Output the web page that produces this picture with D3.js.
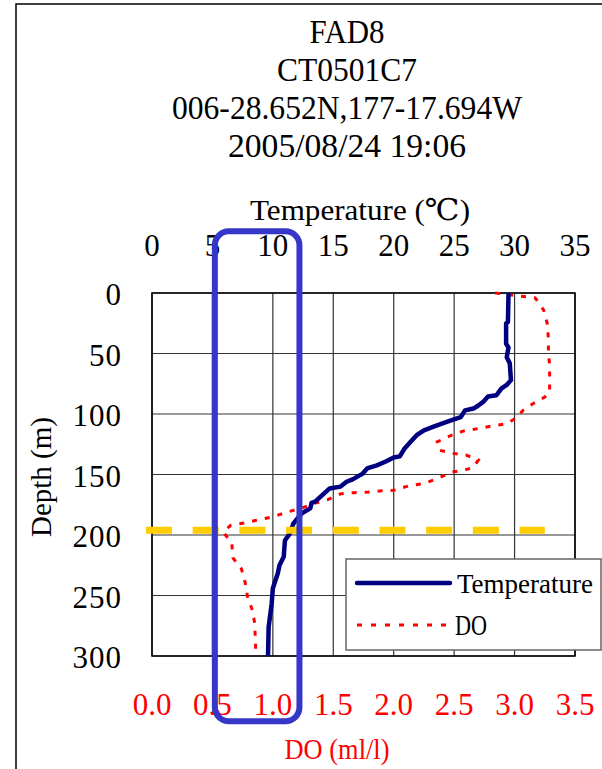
<!DOCTYPE html>
<html>
<head>
<meta charset="utf-8">
<script src="https://cdn.jsdelivr.net/npm/d3@7"></script>
<style>
  body { margin: 0; background: #fff; }
  text { font-family: "Liberation Serif", "DejaVu Serif", serif; }
</style>
</head>
<body>
<div id="chart"></div>
<script>
// title lines
const titleLines = ["FAD8", "CT0501C7", "006-28.652N,177-17.694W", "2005/08/24 19:06"];

// tick labels
const tempTicks = [0, 5, 10, 15, 20, 25, 30, 35];
const doTicks = [0, 0.5, 1.0, 1.5, 2.0, 2.5, 3.0, 3.5];
const depthTicks = [0, 50, 100, 150, 200, 250, 300];

// temperature profile (depth m, deg C)
const tempDepth = [0, 24, 25, 42, 45, 53, 58, 72, 76, 79, 84.5, 85.5, 90, 93, 95.5, 97, 102.5, 105, 107.5, 110.5,
  113.5, 117.5, 123, 128.5, 135, 136, 139.5, 142.5, 145, 149.5, 154, 156, 160, 161.5, 166, 172.5, 173.5, 178, 182,
  190.5, 199, 204.5, 218, 225, 232, 244, 257, 276, 300];
const tempValue = [29.5, 29.45, 29.3, 29.3, 29.5, 29.35, 29.6, 29.7, 29.35, 28.9, 28.5, 27.8, 27.4, 27.0, 26.6, 25.9,
  25.55, 24.8, 24.1, 23.3, 22.5, 21.9, 21.4, 20.9, 20.5, 20.0, 19.3, 18.6, 17.8, 17.4, 16.6, 16.1, 15.6, 14.7, 14.2,
  13.5, 13.2, 13.1, 12.4, 11.7, 11.4, 11.0, 10.9, 10.55, 10.4, 10.0, 9.9, 9.65, 9.6];

// dissolved oxygen profile (depth m, ml/l)
const doDepth = [0, 2, 4, 14, 25, 38, 49, 60, 72, 82, 86, 91, 97, 102.5, 108, 110, 112, 114, 117.5, 123, 130, 132.5,
  134, 138, 144, 146.5, 148, 153.5, 157.5, 159, 163, 163.5, 164.5, 165, 166, 171, 174, 178, 181, 185, 187, 190, 192,
  197.5, 207, 219, 228, 239, 251, 262, 273, 300];
const doValue = [2.84, 3.0, 3.17, 3.24, 3.27, 3.28, 3.28, 3.29, 3.29, 3.29, 3.25, 3.16, 3.07, 3.02, 2.94, 2.81, 2.70,
  2.58, 2.48, 2.36, 2.38, 2.49, 2.60, 2.70, 2.66, 2.58, 2.48, 2.36, 2.25, 2.14, 2.0, 1.90, 1.79, 1.67, 1.56, 1.45,
  1.34, 1.23, 1.12, 1.0, 0.90, 0.77, 0.65, 0.59, 0.66, 0.67, 0.74, 0.77, 0.79, 0.83, 0.85, 0.86];

// annotations
const markerDepth = 196;
const markerTemp = [-0.5, 32.5];
const highlightDO = [0.52, 1.22];
const highlightDepth = [-51, 354];

const W = 602, H = 769;
const plot = {left: 152, right: 575, top: 293, bottom: 656};

const svg = d3.select("#chart").append("svg")
  .attr("width", W).attr("height", H);

// figure frame
svg.append("rect")
  .attr("x", 16).attr("y", 4).attr("width", 700).attr("height", 800)
  .attr("fill", "none").attr("stroke", "#000").attr("stroke-width", 1.5);

const xT = d3.scaleLinear().domain([0, 35]).range([plot.left, plot.right]);
const xDO = d3.scaleLinear().domain([0, 3.5]).range([plot.left, plot.right]);
const y = d3.scaleLinear().domain([0, 300]).range([plot.top, plot.bottom]);

// title
const titleY = [43, 81, 119, 157];
const titleW = [75, 140, 350, 238];
svg.selectAll(".title").data(titleLines).enter().append("text")
  .attr("x", 347).attr("y", (d, i) => titleY[i])
  .attr("text-anchor", "middle")
  .attr("font-size", 33)
  .attr("textLength", (d, i) => titleW[i])
  .attr("lengthAdjust", "spacingAndGlyphs")
  .text(d => d);

// grid
const g = svg.append("g");
g.selectAll(".vg").data(tempTicks).enter().append("line")
  .attr("x1", d => xT(d)).attr("x2", d => xT(d))
  .attr("y1", plot.top).attr("y2", plot.bottom)
  .attr("stroke", "#333").attr("stroke-width", 1.2);
g.selectAll(".hg").data(depthTicks).enter().append("line")
  .attr("x1", plot.left).attr("x2", plot.right)
  .attr("y1", d => y(d)).attr("y2", d => y(d))
  .attr("stroke", "#333").attr("stroke-width", 1.2);
g.append("rect")
  .attr("x", plot.left).attr("y", plot.top)
  .attr("width", plot.right - plot.left).attr("height", plot.bottom - plot.top)
  .attr("fill", "none").attr("stroke", "#000").attr("stroke-width", 1.5);

// top axis labels (temperature)
svg.selectAll(".tt").data(tempTicks).enter().append("text")
  .attr("x", d => xT(d)).attr("y", 256)
  .attr("text-anchor", "middle").attr("font-size", 31)
  .text(d => d);
svg.append("text")
  .attr("x", 360).attr("y", 220)
  .attr("text-anchor", "middle").attr("font-size", 30)
  .attr("textLength", 220).attr("lengthAdjust", "spacingAndGlyphs")
  .text("Temperature (℃)");

// left axis labels (depth)
svg.selectAll(".dt").data(depthTicks).enter().append("text")
  .attr("x", 122).attr("y", d => y(d) + 12)
  .attr("text-anchor", "end").attr("font-size", 31)
  .attr("letter-spacing", 1)
  .text(d => d);
svg.append("text")
  .attr("transform", "translate(51,477) rotate(-90)")
  .attr("text-anchor", "middle").attr("font-size", 29)
  .attr("textLength", 120).attr("lengthAdjust", "spacingAndGlyphs")
  .text("Depth (m)");

// bottom axis labels (DO)
svg.selectAll(".ot").data(doTicks).enter().append("text")
  .attr("x", d => xDO(d)).attr("y", 715)
  .attr("text-anchor", "middle").attr("font-size", 31)
  .attr("fill", "#ff0000")
  .text(d => d3.format(".1f")(d));
svg.append("text")
  .attr("x", 337).attr("y", 759)
  .attr("text-anchor", "middle").attr("font-size", 29)
  .attr("fill", "#ff0000")
  .attr("textLength", 105).attr("lengthAdjust", "spacingAndGlyphs")
  .text("DO (ml/l)");

// profiles
const tempData = tempDepth.map((d, i) => ({depth: d, v: tempValue[i]}));
const doData = doDepth.map((d, i) => ({depth: d, v: doValue[i]}));

svg.append("path").datum(doData)
  .attr("d", d3.line().x(d => xDO(d.v)).y(d => y(d.depth)))
  .attr("fill", "none").attr("stroke", "#ff0000").attr("stroke-width", 3)
  .attr("stroke-dasharray", "5,8");

svg.append("path").datum(tempData)
  .attr("d", d3.line().x(d => xT(d.v)).y(d => y(d.depth)))
  .attr("fill", "none").attr("stroke", "#000080").attr("stroke-width", 4.5)
  .attr("stroke-linejoin", "round");

// marker line
svg.append("line")
  .attr("x1", xT(markerTemp[0])).attr("x2", xT(markerTemp[1]))
  .attr("y1", y(markerDepth)).attr("y2", y(markerDepth))
  .attr("stroke", "#ffcc00").attr("stroke-width", 7)
  .attr("stroke-dasharray", "26,20.7");

// legend
const lg = svg.append("g");
lg.append("rect")
  .attr("x", 346).attr("y", 559).attr("width", 255).attr("height", 91)
  .attr("fill", "#fff").attr("stroke", "#666").attr("stroke-width", 1.5);
lg.append("line")
  .attr("x1", 357).attr("x2", 450).attr("y1", 583).attr("y2", 583)
  .attr("stroke", "#000080").attr("stroke-width", 4.5).attr("stroke-linecap", "round");
lg.append("line")
  .attr("x1", 357).attr("x2", 450).attr("y1", 625).attr("y2", 625)
  .attr("stroke", "#ff0000").attr("stroke-width", 3).attr("stroke-dasharray", "5,9");
lg.append("text")
  .attr("x", 457).attr("y", 593).attr("font-size", 27)
  .text("Temperature");
lg.append("text")
  .attr("x", 455).attr("y", 635).attr("font-size", 30)
  .attr("textLength", 32).attr("lengthAdjust", "spacingAndGlyphs")
  .text("DO");

// highlight box
svg.append("rect")
  .attr("x", xDO(highlightDO[0])).attr("y", y(highlightDepth[0]))
  .attr("width", xDO(highlightDO[1]) - xDO(highlightDO[0]))
  .attr("height", y(highlightDepth[1]) - y(highlightDepth[0]))
  .attr("rx", 14).attr("ry", 14)
  .attr("fill", "none").attr("stroke", "#3636c9").attr("stroke-width", 6);
</script>
</body>
</html>
